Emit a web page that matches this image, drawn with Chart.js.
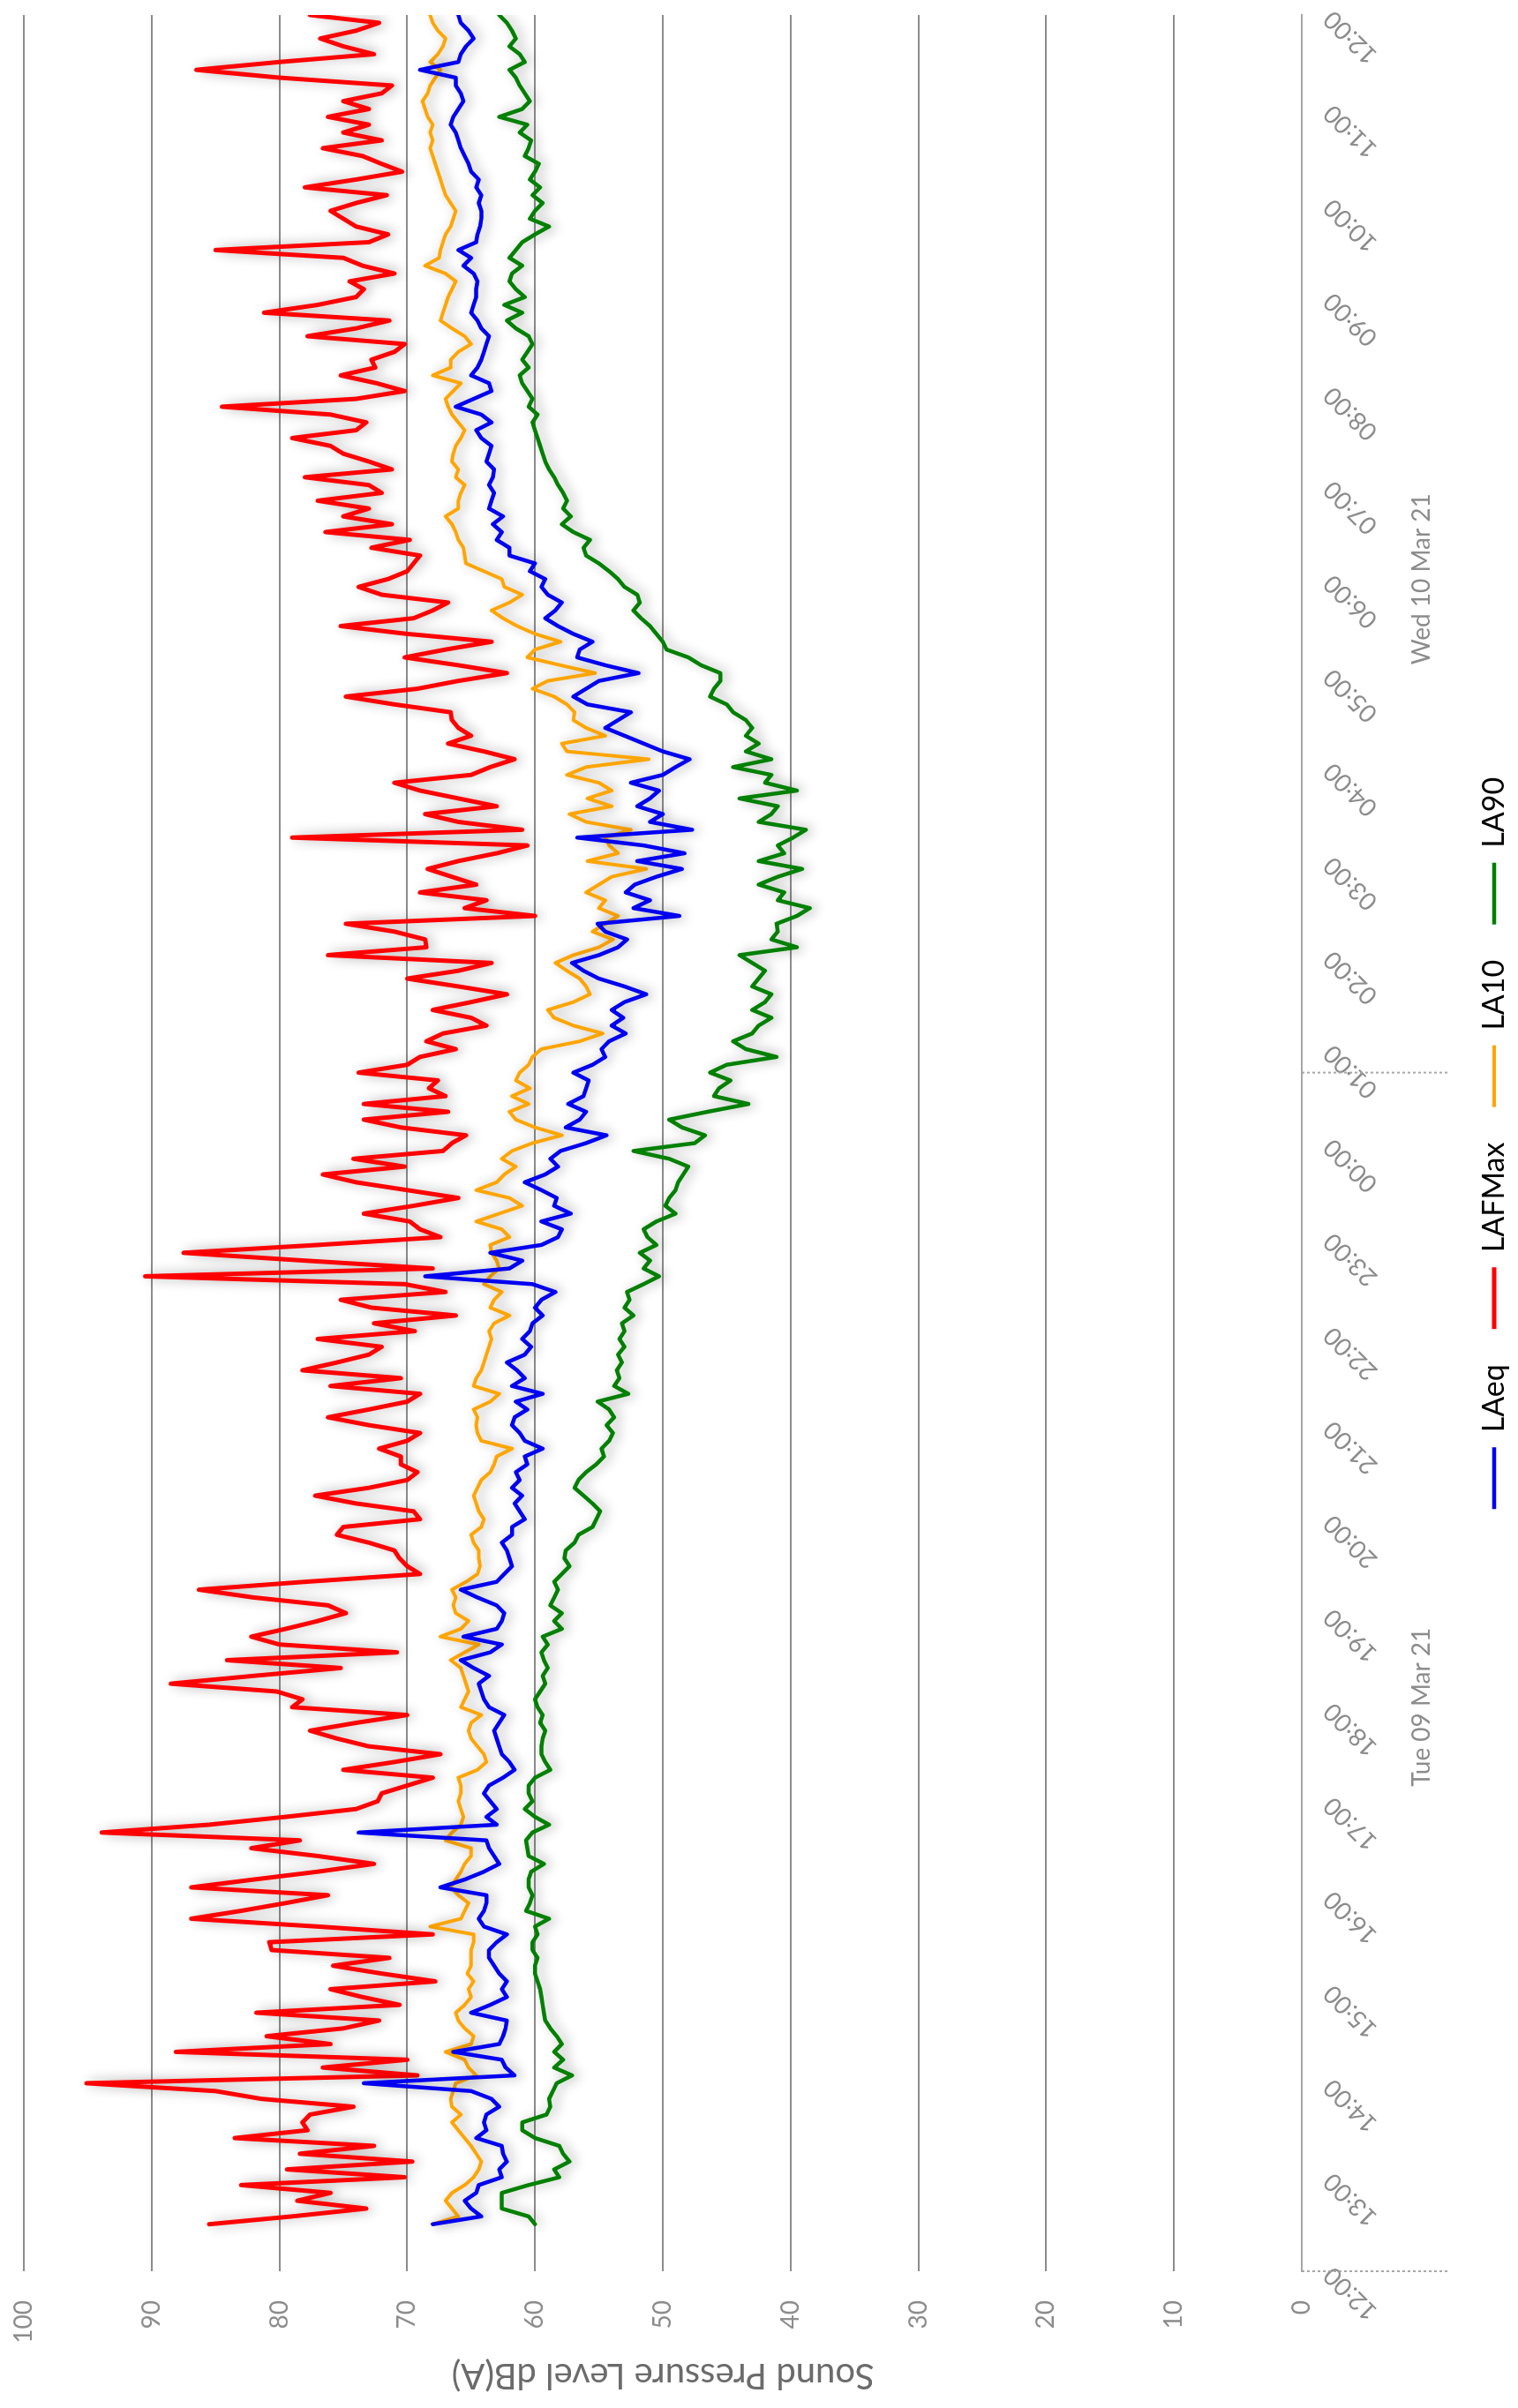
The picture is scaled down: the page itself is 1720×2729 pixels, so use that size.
<!DOCTYPE html>
<html>
<head>
<meta charset="utf-8">
<title>Sound Pressure Level dB(A)</title>
<script src="https://cdn.jsdelivr.net/npm/chart.js@4.4.1/dist/chart.umd.min.js"></script>
<style>
  html, body { margin: 0; padding: 0; background: #fff; overflow: hidden; }
  /* chart is drawn landscape, then turned a quarter turn to sit on the page */
  #wrap {
    position: absolute; left: 0; top: 0;
    width: 2729px; height: 1720px;
    transform-origin: 0 0;
    transform: translateY(2729px) rotate(-90deg);
  }
</style>
</head>
<body>
<div id="wrap"><canvas id="chart" width="2729" height="1720"></canvas></div>
<script>
// 5-minute readings, 12:30 Tue 09 Mar 21 -> 12:00 Wed 10 Mar 21
const startHour = 0.5;          // hours after 12:00 Tue
const stepHours = 5 / 60;

const hourLabels = ['12:00', '13:00', '14:00', '15:00', '16:00', '17:00', '18:00', '19:00', '20:00',
  '21:00', '22:00', '23:00', '00:00', '01:00', '02:00', '03:00', '04:00', '05:00', '06:00', '07:00',
  '08:00', '09:00', '10:00', '11:00', '12:00'];
const dayNames = ['Tue 09 Mar 21', 'Wed 10 Mar 21'];
const dayBounds = [0, 12, 24];
const daySeparators = [0, 12.75];

const laeq = [
  68, 64.2, 65, 65.5, 64.6, 64.4, 62.6, 62.8, 62.2, 62.5, 62.6, 64.6, 63.8, 64, 63.8, 62.8, 63.4, 65, 73.4, 61.6, 62.3, 62.6, 66.4, 62.8,
  62.5, 62.3, 62.2, 65, 63.5, 62.2, 62.6, 62.2, 62.8, 63.2, 63.6, 63.6, 63, 62.2, 64, 64.4, 64, 63.8, 63.8, 67.4, 65.5, 64, 62.8, 63.2, 63.6, 63.8, 73.8, 63, 63.8, 63, 63.5, 64, 63.6,
  62.5, 61.6, 62, 62.6, 62.8, 63, 63.2, 62.8, 62.4, 63.6, 64, 64.2, 64.4, 63.6, 64.8, 65.8, 63.5, 62.6, 65.6, 63, 62.6, 62.4, 63, 64.5, 65.8, 63, 62.4, 61.8, 62, 62.2, 62.6, 61.8,
  61.8, 60.8, 61.2, 61.6, 61, 61.8, 61.2, 61.5, 60.6, 60.8, 59.4, 60.8, 61.2, 61.8, 61.6, 60.6, 61.5, 59.4, 61.8, 60.8, 61.4, 62.2, 60.8, 60.3, 61, 60.4, 60.2, 59.4, 60, 59.5, 58.4, 60.2, 68.6,
  62, 61, 63.5, 59.5, 58.2, 57.9, 59.5, 57.2, 58.5, 58.3, 59.5, 60.8, 59.2, 58.2, 58.8, 58, 56, 54.4, 57.6, 56.5, 56, 57.4, 56.2, 56, 55.8, 57, 55.5, 54.5, 54.8, 54.2, 52.9, 54, 53.1,
  54, 53, 51.3, 53, 55, 56.2, 57.1, 55, 53.5, 52.8, 54.5, 55.1, 48.7, 52.3, 51, 52.9, 52.2, 50.5, 48.5, 52, 48.3, 51.5, 56.7, 47.7, 51, 50, 52, 51, 50.3, 52.5, 50, 49, 47.9,
  50, 51.5, 53, 54.5, 53.5, 52.5, 55.9, 57, 56, 55, 51.9, 54.5, 56.7, 56.5, 55.5, 57, 58.2, 59.2, 58.4, 57.9, 59, 59.5, 59.2, 60.4, 60, 62, 62, 63, 62.6, 63.3, 62.5, 63.6,
  63.4, 63.2, 63.6, 63.3, 63.2, 63.8, 63.6, 63.4, 64.2, 64.6, 63.4, 64.2, 66.2, 64.8, 63.4, 63.6, 65, 64.5, 64.2, 64, 63.8, 63.6, 64.2, 64.5, 65, 64.8, 64.6, 64.6, 64.5, 64.8, 65.6, 65, 66,
  64.6, 64.5, 64.3, 64.2, 64.2, 64.4, 64.2, 64.6, 64.4, 65, 65.2, 65.5, 65.8, 66, 66.2, 66.6, 66.4, 66, 65.6, 65.8, 66.2, 66.2, 69, 66, 65.8, 65.4, 64.8, 65.2, 65.8, 66
];

const lafmax = [
  85.5, 79, 73.2, 78.6, 76, 83, 70.2, 79.4, 69.6, 78.4, 72.6, 83.5, 77.8, 78.2, 77.6, 74.2, 81.4, 85, 95.1, 69.2, 76.6, 70, 88.1, 76,
  81, 75, 72.2, 81.8, 70.6, 73.5, 76, 67.8, 72, 75.8, 71.4, 80.6, 80.8, 68, 77, 86.9, 83, 79.5, 76.2, 86.9, 82, 77, 72.6, 77, 82.2, 78.4, 93.9, 85.5, 79.5, 74, 72.3, 72, 70,
  68, 75, 71, 67.4, 73, 75.5, 77.6, 74, 70, 79, 78.2, 80.2, 88.5, 82, 75.2, 84.1, 70.8, 80, 82.2, 79.5, 77, 74.8, 76.2, 82, 86.3, 78, 69, 70, 70.6, 71, 73, 75.5,
  75, 69, 69.5, 74, 77.2, 73, 70, 69.2, 70.5, 70.5, 72.2, 70, 69, 73, 76.2, 73, 70, 69, 76, 70.5, 78.2, 75.5, 73, 72, 77, 69.4, 72.6, 66.2, 72.8, 75.2, 67, 70.2, 90.5,
  68, 78, 87.5, 77, 67.4, 69, 69.8, 73.4, 69.5, 66, 70, 74, 76.6, 70.2, 74.2, 67.2, 66.5, 65.4, 70.5, 73.4, 66.8, 73.4, 67, 68.3, 67.6, 73.8, 70, 69, 66.2, 68.5, 67.2, 63.8, 65,
  68, 65, 62.2, 66, 70, 66, 63.4, 76.2, 68.5, 68.6, 71, 74.8, 60, 65.5, 63.8, 69, 64.6, 66.5, 68.4, 66, 63, 60.6, 79, 61, 66, 68.6, 63, 66, 69, 71, 65, 63.5, 61.6,
  64, 66.8, 65, 66, 66.5, 66.6, 71, 74.8, 69.2, 66, 62.2, 66, 70.2, 67, 63.4, 70, 75.2, 69.5, 68, 66.8, 72, 73.8, 71.5, 70, 69.5, 69, 72.8, 69.8, 76.4, 71.2, 75, 73,
  77, 72, 73, 78, 71.2, 73, 75, 76, 79, 74, 73.2, 76, 84.5, 74, 70.2, 72.4, 75.2, 72.5, 72.8, 71, 70.2, 77.8, 74, 71.4, 81.2, 77, 74, 73.4, 74.5, 71, 73.5, 75, 85,
  73, 71.5, 74, 75, 76, 74, 71.6, 78, 74, 70.4, 72, 73.5, 76.6, 72, 75, 73, 76.2, 73, 75, 72, 71.2, 80, 86.5, 80, 72.6, 75, 76.8, 74, 72.2, 77.6
];

const la10 = [
  68, 66, 66.5, 67, 66.5, 65.5, 64.8, 64.4, 64.2, 64.6, 65, 65.5, 66, 66.5, 65.8, 66.5, 66.6, 66.4, 66.2, 64.6, 65.2, 65.5, 67, 65,
  64.8, 65.5, 66, 66.2, 65.5, 65, 65.2, 64.8, 65.3, 65, 65, 65, 64.8, 64.8, 68.2, 65.8, 65.5, 65.2, 66, 66.6, 66.2, 65.8, 65.5, 65, 65, 67, 66.5, 65.8, 65.6, 65.8, 66, 65.8, 65.8,
  66, 64.5, 63.8, 64, 64.5, 65, 65.2, 65, 64.2, 65.8, 65.5, 65.2, 65.4, 65.6, 65.8, 66.6, 65.5, 64.4, 67.4, 65.8, 65.2, 66.2, 66.4, 66.2, 66.5, 65.4, 64.5, 64.3, 64.4, 64.4, 64.8, 65,
  64.2, 64, 64.4, 64.6, 64.8, 64.5, 64.2, 63.5, 63.2, 63, 61.8, 64.2, 64.5, 64.6, 64.5, 64.8, 63.5, 62.8, 64.8, 64.6, 64.2, 64, 63.8, 63.6, 63.4, 63.6, 63.2, 62, 63.5, 63.2, 62.6, 64, 63.5,
  62.8, 63, 63.4, 63.5, 62, 62.6, 64.6, 62.8, 61, 62, 64.6, 63, 62.4, 61.5, 62.6, 61.8, 60.2, 57.9, 60, 61.5, 62, 60.5, 61.8, 60.4, 61.5, 61.2, 60.5, 60.2, 59.5, 56.5, 54.7, 57, 58.5,
  59, 57, 55.7, 56, 56.5, 57.5, 58.4, 57, 55, 53.9, 55.5, 54.5, 53.5, 55, 54.5, 56, 55, 54, 51.3, 55.9, 53.5, 54.2, 54.5, 52.5, 56, 57.3, 54, 55.9, 54, 55, 57.5, 56, 51.1,
  57.5, 57.9, 54.5, 56, 57, 56.9, 57.5, 58.5, 60.2, 59, 55.3, 58, 60.6, 60, 58, 60, 61.4, 62.5, 63.4, 62, 61, 62.4, 62.6, 64, 65.4, 65.5, 65.6, 66, 66.2, 66.5, 67, 66,
  66, 65.8, 65.5, 66.2, 66, 66.5, 66.4, 66.2, 65.8, 65.5, 66, 66.5, 66.8, 67, 66.4, 65.8, 68, 66.6, 66.6, 66, 65, 65.5, 66.5, 67.4, 67.2, 67, 66.8, 66.5, 66.2, 67, 68.6, 67.5, 67.4,
  67.2, 67, 66.6, 66.4, 66.2, 66.6, 67, 67.2, 67.4, 67.6, 67.8, 68, 68.2, 68, 68.2, 68, 68.4, 68.6, 68.8, 68.4, 68.2, 67.8, 67.4, 68.2, 67.6, 67.2, 67, 67.6, 68, 68.2
];

const la90 = [
  60, 60.5, 62.6, 62.6, 62.6, 60.5, 58.1, 58.5, 57.3, 57.8, 58.1, 60, 61, 61, 59.1, 58.8, 58.9, 58.6, 58.3, 57.1, 58.5, 57.8, 58.5, 57.9,
  58.3, 58.8, 59.2, 59.3, 59.4, 59.5, 59.6, 59.8, 60, 60, 59.8, 60.2, 60.2, 59.8, 60, 58.9, 60.7, 60.4, 60.2, 60.5, 60.5, 60.3, 59.3, 60.5, 60.6, 60.7, 60.2, 58.9, 60, 60.8, 60.2, 60.5, 60.5,
  60, 58.8, 59.2, 59.5, 59.5, 59.4, 59.2, 59.6, 59.4, 59.8, 60, 59.6, 59.2, 59.4, 59, 59.3, 59.5, 59, 59.4, 57.9, 58.5, 57.9, 58.8, 58.5, 58.2, 58.5, 57.9, 57.3, 57.7, 57.6, 56.9, 56.6,
  55.5, 55.2, 54.9, 55.5, 56.2, 56.9, 56.6, 56, 55.2, 54.6, 54.8, 54.2, 53.9, 54.4, 53.8, 54.2, 55.1, 52.7, 53.8, 53.4, 53.6, 53.2, 53.5, 53, 53.4, 53, 53.2, 52.3, 53, 52.6, 52.8, 51.5, 50.3,
  51.5, 51, 51.8, 50.5, 51.2, 51.5, 50.5, 49, 49.8, 49.5, 49, 48.8, 48.4, 48, 49.5, 52.3, 47.5, 46.7, 48.5, 49.5, 46.5, 43.3, 46, 45.6, 44.7, 46.3, 45, 41.1, 43.5, 44.5, 43, 42.5, 41.5,
  43, 42, 41.5, 43, 42.5, 42, 43, 44, 39.5, 41.5, 41, 41.1, 39.5, 38.5, 41, 40.5, 42.5, 41, 39.1, 42.5, 40.5, 41, 39.8, 38.8, 42.5, 41.5, 41, 44, 39.5, 42, 41.5, 44.5, 41.5,
  43.5, 42.5, 43.5, 43, 43.5, 44.5, 45, 46.3, 46, 45.5, 45.5, 47, 48, 49.7, 50, 50.5, 51, 51.7, 52.3, 51.8, 52, 53, 53.5, 54.2, 55, 56, 56.2, 55.7, 57, 57.9, 57.2, 57.8,
  57.5, 57.8, 58.2, 58.5, 58.9, 59.2, 59.4, 59.6, 59.8, 60, 60.2, 59.8, 60.5, 60.2, 60.6, 61, 61.2, 60.5, 61, 60.6, 60.2, 60.5, 61.5, 62.2, 61, 62.4, 60.8, 61.5, 62, 61.8, 61, 62, 61.5,
  61, 60, 58.9, 60.4, 60, 59.4, 60.2, 59.6, 60.4, 60, 59.7, 60.8, 60.5, 60.3, 61.2, 60.6, 62.8, 61, 60.4, 60.8, 61.2, 61.5, 62, 60.8, 61.2, 62, 61.5, 61.8, 62.2, 62.8
];

// sample times in hours after 12:00 Tue
const times = laeq.map((_, i) => startHour + i * stepHours);
const toPoints = values => values.map((v, i) => ({ x: times[i], y: v }));

const FONT = 'Lato';

// soft grey shadow under the lines, like the spreadsheet's line effect
const lineShadow = {
  id: 'lineShadow',
  beforeDatasetsDraw(chart) {
    const ctx = chart.ctx;
    ctx.save();
    ctx.shadowColor = 'rgba(0, 0, 0, 0.33)';
    ctx.shadowBlur = 14;
    ctx.shadowOffsetX = 0;
    ctx.shadowOffsetY = 5;
  },
  afterDatasetsDraw(chart) {
    chart.ctx.restore();
  }
};

// second row of the time axis: day names with dotted separators
const dayAxis = {
  id: 'dayAxis',
  afterDraw(chart) {
    const { ctx, scales: { x, y } } = chart;
    const base = y.getPixelForValue(0);
    ctx.save();
    ctx.strokeStyle = '#a6a6a6';
    ctx.lineWidth = 2;
    ctx.setLineDash([3, 3]);
    daySeparators.forEach(h => {
      const px = x.getPixelForValue(h);
      ctx.beginPath();
      ctx.moveTo(px, base);
      ctx.lineTo(px, base + 165);
      ctx.stroke();
    });
    ctx.setLineDash([]);
    ctx.fillStyle = '#8c8c8c';
    ctx.font = `28px ${FONT}`;
    ctx.textAlign = 'center';
    ctx.textBaseline = 'middle';
    dayNames.forEach((name, i) => {
      const mid = (x.getPixelForValue(dayBounds[i]) + x.getPixelForValue(dayBounds[i + 1])) / 2;
      ctx.fillText(name, mid, base + 136);
    });
    ctx.restore();
  }
};

const lineSet = (label, values, color, width) => ({
  label: label,
  data: toPoints(values),
  borderColor: color,
  backgroundColor: color,
  borderWidth: width,
  pointRadius: 0,
  tension: 0,
  borderJoinStyle: 'round',
  borderCapStyle: 'round'
});

new Chart(document.getElementById('chart'), {
  type: 'line',
  data: {
    datasets: [
      lineSet('LAeq', laeq, '#0000f0', 4.5),
      lineSet('LAFMax', lafmax, '#ff0000', 5),
      lineSet('LA10', la10, '#ffa500', 4),
      lineSet('LA90', la90, '#008000', 4.5)
    ]
  },
  options: {
    responsive: false,
    animation: false,
    devicePixelRatio: 1,
    layout: { padding: { left: 13, right: 17, top: 27, bottom: 0 } },
    plugins: {
      legend: {
        position: 'bottom',
        fullSize: false,
        labels: {
          color: '#000',
          font: { family: FONT, size: 34 },
          usePointStyle: true,
          pointStyle: 'line',
          pointStyleWidth: 70,
          padding: 40
        }
      },
      tooltip: { enabled: false }
    },
    scales: {
      x: {
        type: 'linear',
        min: 0,
        max: 24,
        afterFit: scale => {
          scale.height = 161;
          scale.paddingLeft = 0;
          scale.paddingRight = 0;
        },
        grid: { display: false, drawTicks: false },
        border: { display: true, color: '#a6a6a6', width: 2, dash: [4, 3] },
        ticks: {
          stepSize: 1,
          autoSkip: false,
          minRotation: 45,
          maxRotation: 45,
          padding: 18,
          color: '#8c8c8c',
          font: { family: FONT, size: 28 },
          callback: value => hourLabels[value]
        }
      },
      y: {
        min: 0,
        max: 100,
        afterFit: scale => {
          scale.width = 142;
          scale.paddingTop = 0;
          scale.paddingBottom = 0;
        },
        grid: {
          color: ctx => (ctx.tick && ctx.tick.value === 0 ? 'rgba(0,0,0,0)' : '#8c8c8c'),
          lineWidth: 2,
          drawTicks: false
        },
        border: { display: false },
        ticks: {
          stepSize: 10,
          padding: 33,
          color: '#8c8c8c',
          font: { family: FONT, size: 28 }
        },
        title: {
          display: true,
          text: 'Sound Pressure Level dB(A)',
          color: '#6b6b6b',
          font: { family: FONT, size: 40 },
          padding: 0
        }
      }
    }
  },
  plugins: [lineShadow, dayAxis]
});
</script>
</body>
</html>
